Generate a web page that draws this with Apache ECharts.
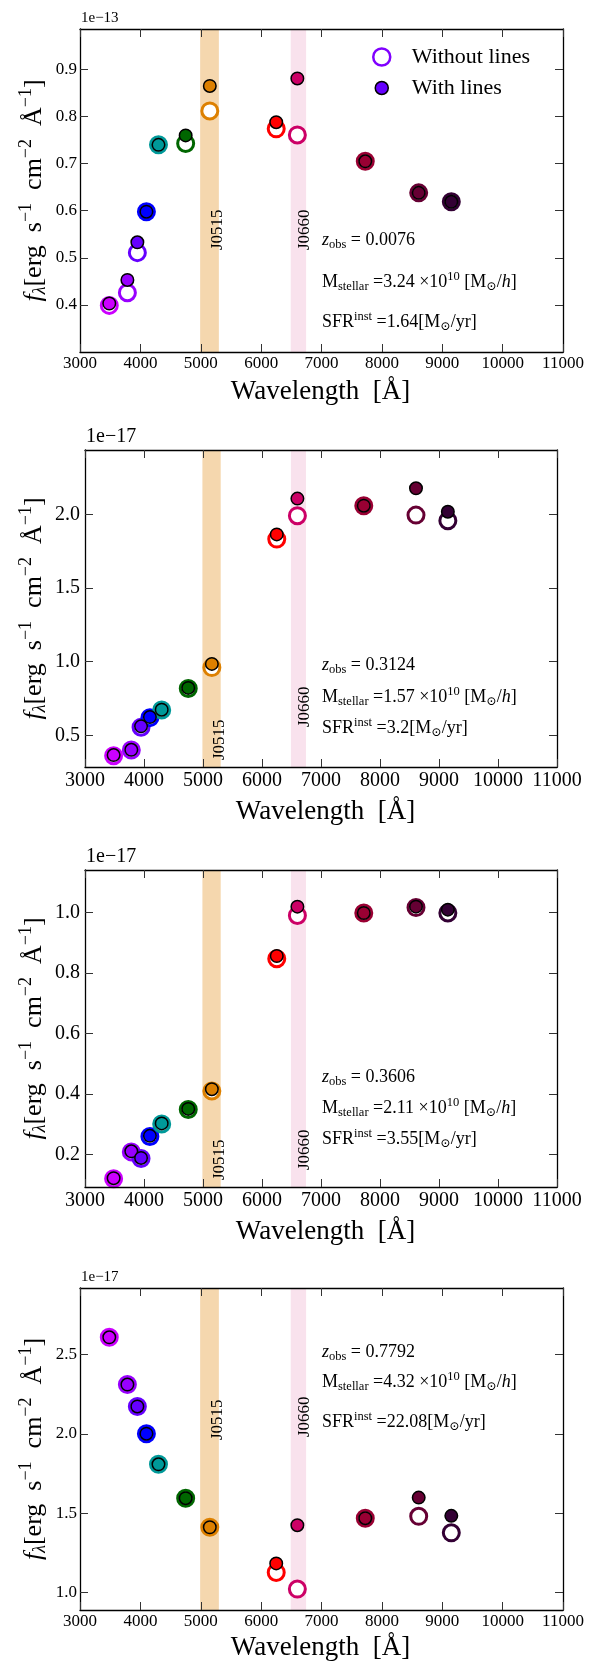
<!DOCTYPE html>
<html><head><meta charset="utf-8">
<script src="https://cdn.jsdelivr.net/npm/echarts@6/dist/echarts.min.js"></script>
<style>html,body{margin:0;padding:0;background:#fff}#c{width:598px;height:1663px}</style>
</head><body><div id="c"></div>
<script>
// ---------------- DATA ----------------
const filterNames = ['uJAVA','J0378','J0395','J0410','J0430','gSDSS','J0515','rSDSS','J0660','iSDSS','J0861','zSDSS'];
const wavelengths = [3485,3785,3950,4100,4300,4750,5150,6250,6600,7725,8610,9150];
const filterColors = ['#CC00FF','#9900FF','#6600FF','#0000FF','#009999','#006600','#DD8000','#FF0000','#CC0066','#990033','#660033','#330034'];
const xTicks = [3000,4000,5000,6000,7000,8000,9000,10000,11000];

// panel 1 (x 1e-13)
const p1Without = [0.399,0.426,0.511,0.598,0.740,0.743,0.812,0.774,0.761,0.705,0.638,0.619];
const p1With    = [0.403,0.453,0.533,0.598,0.740,0.760,0.865,0.788,0.881,0.705,0.638,0.619];
const p1YTicks  = [0.4,0.5,0.6,0.7,0.8,0.9];
const p1Info    = {z:'0.0076', m:'3.24', sfr:'1.64', exp:'1e\u221213'};
// panel 2 (x 1e-17)
const p2Without = [0.362,0.400,0.555,0.620,0.672,0.818,0.960,1.832,1.991,2.059,1.995,1.957];
const p2With    = [0.366,0.402,0.561,0.624,0.674,0.822,0.985,1.864,2.107,2.059,2.177,2.018];
const p2YTicks  = [0.5,1.0,1.5,2.0];
const p2Info    = {z:'0.3124', m:'1.57', sfr:'3.2', exp:'1e\u221217'};
// panel 3 (x 1e-17)
const p3Without = [0.120,0.209,0.187,0.260,0.301,0.349,0.410,0.847,0.990,0.998,1.016,0.998];
const p3With    = [0.122,0.211,0.189,0.262,0.303,0.351,0.416,0.856,1.019,0.998,1.019,1.009];
const p3YTicks  = [0.2,0.4,0.6,0.8,1.0];
const p3Info    = {z:'0.3606', m:'2.11', sfr:'3.55', exp:'1e\u221217'};
// panel 4 (x 1e-17)
const p4Without = [2.609,2.311,2.173,2.001,1.808,1.594,1.411,1.126,1.021,1.468,1.480,1.376];
const p4With    = [2.609,2.311,2.173,2.001,1.808,1.594,1.411,1.183,1.424,1.468,1.598,1.483];
const p4YTicks  = [1.0,1.5,2.0,2.5];
const p4Info    = {z:'0.7792', m:'4.32', sfr:'22.08', exp:'1e\u221217'};

const bands = [
  {name:'J0515', from:4990, to:5300, center:5150, color:'#F5D7AE'},
  {name:'J0660', from:6490, to:6745, center:6600, color:'#F9E2ED'}
];

// ---------------- LAYOUT ----------------
const FONT = '"Liberation Serif","DejaVu Serif","Times New Roman",serif';
const layout = [
  {left:80, top:29,   width:483, height:323, yMin:0.30,  yMax:0.986, tick:17, off:15, xMargin:3, yMargin:3,
   info:[240,282,322], bandY:[250,250], xTitleY:392},
  {left:85, top:450,  width:472, height:317, yMin:0.285, yMax:2.437, tick:20, off:20, xMargin:4, yMargin:5,
   info:[665,697,728], bandY:[760,727], xTitleY:812},
  {left:85, top:870,  width:472, height:317, yMin:0.093, yMax:1.14,  tick:20, off:20, xMargin:4, yMargin:5,
   info:[1077,1108,1139], bandY:[1180,1170], xTitleY:1232},
  {left:80, top:1288, width:483, height:322, yMin:0.889, yMax:2.92,  tick:17, off:15, xMargin:3, yMargin:3,
   info:[1352,1382,1422], bandY:[1440,1437], xTitleY:1648}
];
const panels = [
  {without:p1Without, with:p1With, yTicks:p1YTicks, info:p1Info},
  {without:p2Without, with:p2With, yTicks:p2YTicks, info:p2Info},
  {without:p3Without, with:p3With, yTicks:p3YTicks, info:p3Info},
  {without:p4Without, with:p4With, yTicks:p4YTicks, info:p4Info}
];

const chart = echarts.init(document.getElementById('c'), null, {renderer:'canvas'});
const grids = [], xAxes = [], yAxes = [], series = [];
const tickStyle = {inside:true, length:8, lineStyle:{color:'#333', width:1}};
const lineStyle = {color:'#000', width:1.3};

panels.forEach((p, i) => {
  const L = layout[i];
  grids.push({left:L.left, top:L.top, width:L.width, height:L.height, containLabel:false});
  const xBase = {type:'value', gridIndex:i, min:xTicks[0], max:xTicks[xTicks.length - 1], interval:1000, z:5,
    splitLine:{show:false}, axisLine:{show:true, onZero:false, lineStyle},
    axisTick:Object.assign({}, tickStyle, {customValues:xTicks})};
  xAxes.push(Object.assign({}, xBase, {position:'bottom',
    axisLabel:{show:true, margin:L.xMargin, fontFamily:FONT, fontSize:L.tick, color:'#000', hideOverlap:false,
      customValues:xTicks, formatter:v => String(Math.round(v))}}));
  xAxes.push(Object.assign({}, xBase, {position:'top', axisLabel:{show:false}}));
  const yBase = {type:'value', gridIndex:i, min:L.yMin, max:L.yMax, z:5, scale:true,
    splitLine:{show:false}, axisLine:{show:true, onZero:false, lineStyle},
    axisTick:Object.assign({}, tickStyle, {customValues:p.yTicks})};
  yAxes.push(Object.assign({}, yBase, {position:'left',
    axisLabel:{show:true, margin:L.yMargin, fontFamily:FONT, fontSize:L.tick, color:'#000',
      customValues:p.yTicks, formatter:v => v.toFixed(1)}}));
  yAxes.push(Object.assign({}, yBase, {position:'right', axisLabel:{show:false}}));

  // filter bands
  series.push({type:'scatter', xAxisIndex:2*i, yAxisIndex:2*i, data:[], z:1, silent:true,
    markArea:{silent:true, label:{show:false},
      data: bands.map(b => [{xAxis:b.from, itemStyle:{color:b.color, opacity:1}}, {xAxis:b.to}])}});
  // without lines: open circles
  series.push({type:'scatter', name:'Without lines', xAxisIndex:2*i, yAxisIndex:2*i, z:3, silent:true,
    symbol:'circle', symbolSize:16,
    itemStyle:{color:'#fff', borderWidth:3, opacity:1},
    data: wavelengths.map((w, k) => ({value:[w, p.without[k]], itemStyle:{borderColor:filterColors[k]}}))});
  // with lines: filled circles
  series.push({type:'scatter', name:'With lines', xAxisIndex:2*i, yAxisIndex:2*i, z:4, silent:true,
    symbol:'circle', symbolSize:12.5,
    itemStyle:{borderColor:'#000', borderWidth:1.5, opacity:1},
    data: wavelengths.map((w, k) => ({value:[w, p.with[k]], itemStyle:{color:filterColors[k]}}))});
});

chart.setOption({
  animation:false,
  backgroundColor:'#fff',
  grid:grids, xAxis:xAxes, yAxis:yAxes, series:series,
  legend:{
    orient:'vertical', left:372, top:46, padding:0, itemWidth:50, itemHeight:17, itemGap:9,
    selectedMode:false,
    textStyle:{fontFamily:FONT, fontSize:22, color:'#000'},
    data:[
      {name:'Without lines', icon:'circle', itemStyle:{color:'#fff', borderColor:'#8000FF', borderWidth:2.5}},
      {name:'With lines', icon:'path://M0,0M17,17M2,8.5A6.5,6.5,0,1,1,15,8.5A6.5,6.5,0,1,1,2,8.5Z',
        itemStyle:{color:'#6600FF', borderColor:'#000', borderWidth:1.5}}
    ]
  }
});

// ---------------- TEXT ANNOTATIONS ----------------
const mainSize = 18, subSize = 12.5;
const infoRich = {
  n:{fontFamily:FONT, fontSize:mainSize, lineHeight:20, verticalAlign:'middle', color:'#000'},
  i:{fontFamily:FONT, fontSize:mainSize, fontStyle:'italic', lineHeight:20, verticalAlign:'middle', color:'#000'},
  sub:{fontFamily:FONT, fontSize:subSize, lineHeight:13, padding:[9,0,0,0], verticalAlign:'middle', color:'#000'},
  sup:{fontFamily:FONT, fontSize:subSize, lineHeight:13, padding:[0,0,11,0], verticalAlign:'middle', color:'#000'}
};
const titleRich = {
  n:{fontFamily:FONT, fontSize:26, lineHeight:30, verticalAlign:'middle', color:'#000'},
  f:{fontFamily:FONT, fontSize:26, fontStyle:'italic', lineHeight:30, verticalAlign:'middle', color:'#000'},
  sub:{fontFamily:FONT, fontSize:18, fontStyle:'italic', lineHeight:18, padding:[13,0,0,0], verticalAlign:'middle', color:'#000'},
  sup:{fontFamily:FONT, fontSize:18, lineHeight:18, padding:[0,0,16,0], verticalAlign:'middle', color:'#000'}
};
function textEl(x, y, text, rich, align, vAlign, rotation) {
  return {type:'text', x:x, y:y, rotation:rotation || 0, silent:true, z:20,
    style:{text:text, rich:rich, fill:'#000', align:align, verticalAlign:vAlign,
      textAlign:align, textVerticalAlign:vAlign, fontFamily:FONT}};
}
const graphics = [];
panels.forEach((p, i) => {
  const L = layout[i];
  const info = p.info;
  graphics.push(textEl(322, L.info[0], '{i|z}{sub|obs}{n| = ' + info.z + '}', infoRich, 'left', 'middle'));
  graphics.push(textEl(322, L.info[1], '{n|M}{sub|stellar}{n| =' + info.m + ' \u00d710}{sup|10}{n| [M}{sub|\u2299}{n|/}{i|h}{n|]}', infoRich, 'left', 'middle'));
  graphics.push(textEl(322, L.info[2], '{n|SFR}{sup|inst}{n| =' + info.sfr + '[M}{sub|\u2299}{n|/yr]}', infoRich, 'left', 'middle'));
  // offset text
  graphics.push({type:'text', x:L.left + 1, y:L.top - 3, silent:true, z:20,
    style:{text:info.exp, fill:'#000', fontFamily:FONT, fontSize:L.off, align:'left', verticalAlign:'bottom',
      textAlign:'left', textVerticalAlign:'bottom'}});
  // axis titles
  graphics.push(textEl(34, L.top + L.height / 2,
    '{f|f}{sub|\u03bb}{n|[erg  s}{sup|\u22121}{n|  cm}{sup|\u22122}{n|  \u00c5}{sup|\u22121}{n|]}',
    titleRich, 'center', 'middle', Math.PI / 2));
  graphics.push({type:'text', x:L.left + 240.5, y:L.xTitleY, silent:true, z:20,
    style:{text:'Wavelength  [\u00c5]', fill:'#000', fontFamily:FONT, fontSize:27, align:'center', verticalAlign:'middle',
      textAlign:'center', textVerticalAlign:'middle'}});
  // band labels
  bands.forEach((b, k) => {
    const px = chart.convertToPixel({gridIndex:i}, [b.center, (L.yMin + L.yMax) / 2]);
    graphics.push({type:'text', x:px[0] - 1, y:L.bandY[k], rotation:Math.PI / 2, silent:true, z:20,
      style:{text:b.name, fill:'#000', fontFamily:FONT, fontSize:17, align:'left', verticalAlign:'top',
        textAlign:'left', textVerticalAlign:'top'}});
  });
});
chart.setOption({graphic:graphics});
</script></body></html>
